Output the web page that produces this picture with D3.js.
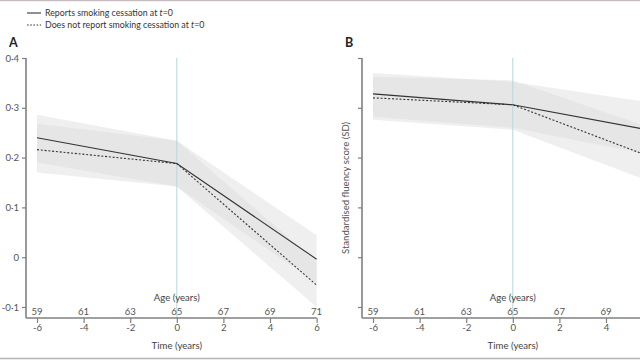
<!DOCTYPE html>
<html><head><meta charset="utf-8">
<script src="https://cdn.jsdelivr.net/npm/d3@7"></script>
<style>
html,body{margin:0;padding:0;background:#fff;}
svg{display:block;font-family:Lato,"Open Sans",sans-serif;}
</style></head>
<body>
<svg id="chart" width="640" height="360"></svg>
<script>
// ---- data ----
const times = [-6, 0, 6];
const timeTicks = [-6, -4, -2, 0, 2, 4, 6];
const ageTicks = [59, 61, 63, 65, 67, 69, 71];
const yTicksA = [-0.1, 0, 0.1, 0.2, 0.3, 0.4];
const yTickLabelsA = ["-0·1", "0", "0·1", "0·2", "0·3", "0·4"];

// Panel A (memory)
const aCessMean = [0.240, 0.188, -0.004];
const aCessLo   = [0.190, 0.142, -0.052];
const aCessHi   = [0.286, 0.234, 0.044];
const aNoMean   = [0.216, 0.188, -0.056];
const aNoLo     = [0.170, 0.142, -0.100];
const aNoHi     = [0.268, 0.234, -0.010];

// Panel B (fluency)
const bCessMean = [0.328, 0.306, 0.254];
const bCessLo   = [0.282, 0.260, 0.205];
const bCessHi   = [0.370, 0.352, 0.310];
const bNoMean   = [0.320, 0.306, 0.200];
const bNoLo     = [0.276, 0.256, 0.150];
const bNoHi     = [0.362, 0.355, 0.258];

const legendLabels = ["Reports smoking cessation at ", "Does not report smoking cessation at "];

const svg = d3.select("#chart");
const W = 640;

// frame lines
svg.append("line").attr("x1",0).attr("x2",W).attr("y1",0.5).attr("y2",0.5).attr("stroke","#c9bcc0").attr("stroke-width",1.5);
svg.append("line").attr("x1",0).attr("x2",W).attr("y1",358.5).attr("y2",358.5).attr("stroke","#b5b5b5").attr("stroke-width",1.5);

// legend
legendLabels.forEach((lab,i)=>{
  const y = 13 + i*12;
  svg.append("line").attr("x1",27).attr("x2",41).attr("y1",y).attr("y2",y)
    .attr("stroke","#333").attr("stroke-width",1.1).attr("stroke-dasharray", i ? "1.6,1.6" : null);
  const t = svg.append("text").attr("x",45).attr("y",y+3.3).attr("font-size",8.8).attr("fill","#333");
  t.append("tspan").text(lab);
  t.append("tspan").attr("font-style","italic").text("t");
  t.append("tspan").text("=0");
});

function panel(opts){
  const {left, letter, letterX, data, showYLabels, yLabel} = opts;
  const x0 = left + 11, x1 = left + 11 + 12*23.3;
  const x = d3.scaleLinear().domain([-6,6]).range([x0, x1]);
  const y = d3.scaleLinear().domain([-0.1,0.4]).range([307, 58]);
  const axisY = 318;
  const g = svg.append("g");
  const visible = timeTicks.filter(t => x(t) < W - 6);

  // bands
  const area = d3.area().x((d,i)=>x(times[i])).y0(d=>y(d[0])).y1(d=>y(d[1]));
  [[data.cLo,data.cHi],[data.nLo,data.nHi]].forEach(([lo,hi])=>{
    g.append("path").datum(lo.map((v,i)=>[v,hi[i]])).attr("d",area)
      .attr("fill","#d8d8d8").attr("fill-opacity",0.42);
  });

  // vertical line at t=0
  g.append("line").attr("x1",x(0)).attr("x2",x(0)).attr("y1",58).attr("y2",axisY)
    .attr("stroke","#b4d8da").attr("stroke-width",1);

  // lines
  const line = d3.line().x((d,i)=>x(times[i])).y(d=>y(d));
  g.append("path").datum(data.nMean).attr("d",line).attr("fill","none")
    .attr("stroke","#333").attr("stroke-width",1.1).attr("stroke-dasharray","2,1.8");
  g.append("path").datum(data.cMean).attr("d",line).attr("fill","none")
    .attr("stroke","#333").attr("stroke-width",1.1);

  // y axis
  const yAxis = d3.axisLeft(y).tickValues(yTicksA).tickSize(4).tickPadding(3)
    .tickFormat((d,i)=> showYLabels ? yTickLabelsA[i] : "");
  const ya = g.append("g").attr("transform",`translate(${left},0)`).call(yAxis);
  ya.select(".domain").attr("d",`M0,58V${axisY}`).attr("stroke","#808080").attr("stroke-width",1.6);
  ya.selectAll(".tick line").attr("stroke","#808080").attr("stroke-width",1.2);
  ya.selectAll(".tick text").attr("font-size",9.6).attr("fill","#555").attr("font-family","Lato,sans-serif");

  // x axis
  const xEnd = Math.min(x1, W);
  g.append("line").attr("x1",left).attr("x2",xEnd).attr("y1",axisY).attr("y2",axisY)
    .attr("stroke","#808080").attr("stroke-width",1.6);
  const xAxis = d3.axisBottom(x).tickValues(visible).tickSize(5).tickPadding(1).tickFormat(d=> d<0 ? "-"+Math.abs(d) : d);
  const xa = g.append("g").attr("transform",`translate(0,${axisY})`).call(xAxis);
  xa.select(".domain").remove();
  xa.selectAll(".tick line").attr("stroke","#808080").attr("stroke-width",1.2);
  xa.selectAll(".tick text").attr("font-size",9.6).attr("fill","#555").attr("font-family","Lato,sans-serif");

  // age labels
  g.selectAll(".age").data(ageTicks.filter((d,i)=> x(timeTicks[i]) < W - 6)).enter().append("text")
    .attr("x",(d,i)=>x(timeTicks[i])).attr("y",axisY-3).attr("text-anchor","middle")
    .attr("font-size",9.6).attr("fill","#555").text(d=>d);

  g.append("text").attr("x",x(0)).attr("y",301).attr("text-anchor","middle")
    .attr("font-size",9.6).attr("fill","#444").text("Age (years)");
  g.append("text").attr("x",x(0)).attr("y",349).attr("text-anchor","middle")
    .attr("font-size",9.6).attr("fill","#444").text("Time (years)");

  svg.append("text").attr("x",letterX).attr("y",47).attr("font-size",12.5).attr("font-weight","bold")
    .attr("fill","#222").text(letter);

  if (yLabel){
    svg.append("text").attr("transform",`translate(${left-13},188) rotate(-90)`).attr("text-anchor","middle")
      .attr("font-size",9.6).attr("fill","#555").text(yLabel);
  }
}

panel({left:26, letter:"A", letterX:9, showYLabels:true,
  data:{cMean:aCessMean,cLo:aCessLo,cHi:aCessHi,nMean:aNoMean,nLo:aNoLo,nHi:aNoHi}});
panel({left:362, letter:"B", letterX:345, showYLabels:false,
  yLabel:"Standardised  fluency score (SD)",
  data:{cMean:bCessMean,cLo:bCessLo,cHi:bCessHi,nMean:bNoMean,nLo:bNoLo,nHi:bNoHi}});
</script>
</body></html>
